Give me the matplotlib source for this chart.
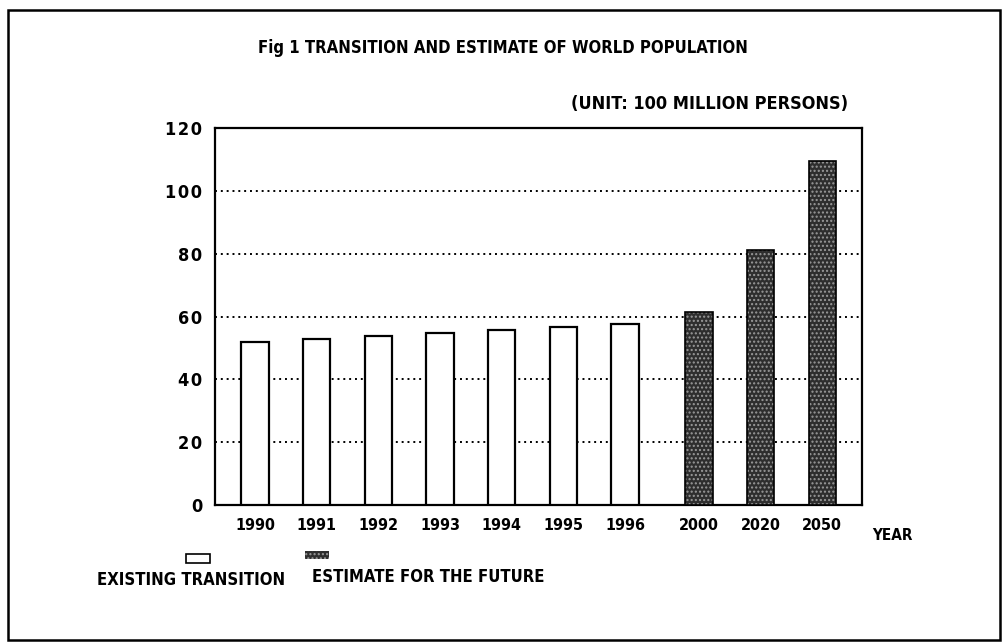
import numpy as np
import matplotlib
matplotlib.use("Agg")
import matplotlib.pyplot as plt
from matplotlib.patches import Rectangle

# values (unit: 100 million persons)
existing_years = ['1990', '1991', '1992', '1993', '1994', '1995', '1996']
existing_pop = [52.0, 52.7, 53.8, 54.7, 55.7, 56.6, 57.6]
future_years = ['2000', '2020', '2050']
future_pop = [61.5, 81.2, 109.5]
y_ticks = [0, 20, 40, 60, 80, 100, 120]

# narrow bold lettering like the old word-processor chart
plt.rcParams['font.family'] = ['DejaVu Sans']
plt.rcParams['font.stretch'] = 'condensed'
plt.rcParams['font.weight'] = 'bold'

fig = plt.figure(figsize=(10.04, 6.42), dpi=100)
ax = fig.add_axes([0.214, 0.213, 0.645, 0.588])

# slightly wider gap between the last observed year and the estimates
x_exist = np.arange(len(existing_years))
x_future = len(existing_years) + 0.2 + np.arange(len(future_years))
w = 0.44

ax.bar(x_exist, existing_pop, width=w, color='white', edgecolor='black',
       linewidth=1.6, zorder=3)
# dark stippled bars: dark fill + light dotted hatch, then black outline
ax.bar(x_future, future_pop, width=w, color='#2e2e2e', edgecolor='#9a9a9a',
       hatch='....', linewidth=0, zorder=3)
ax.bar(x_future, future_pop, width=w, fill=False, edgecolor='black',
       linewidth=1.2, zorder=4)

ax.set_xlim(-0.65, x_future[-1] + 0.65)
ax.set_ylim(0, 120)
ax.set_yticks(y_ticks)
# digits in the scan are letter-spaced a little
ax.set_yticklabels(['\u200a'.join(str(t)) for t in y_ticks], fontsize=13)
ax.set_xticks(list(x_exist) + list(x_future))
ax.set_xticklabels(existing_years + future_years, fontsize=11.5)
ax.tick_params(length=0)
ax.tick_params(axis='y', pad=9)
ax.tick_params(axis='x', pad=9)

ax.yaxis.grid(True, linestyle=(0, (1, 2)), color='black', linewidth=1.4, zorder=1)
ax.set_axisbelow(True)
for s in ax.spines.values():
    s.set_linewidth(1.6)

fig.text(0.257, 0.925, 'Fig 1 TRANSITION AND ESTIMATE OF WORLD POPULATION',
         ha='left', va='center', fontsize=12)
fig.text(0.845, 0.838, '(UNIT: 100 MILLION PERSONS)', ha='right', va='center',
         fontsize=13)
fig.text(0.889, 0.166, 'YEAR', ha='center', va='center', fontsize=11)

# legend, drawn by hand like the original
fig.patches.append(Rectangle((0.185, 0.123), 0.024, 0.014, transform=fig.transFigure,
                             facecolor='white', edgecolor='black', linewidth=1.2))
fig.patches.append(Rectangle((0.304, 0.129), 0.024, 0.0125, transform=fig.transFigure,
                             facecolor='#2e2e2e', edgecolor='#9a9a9a', hatch='....',
                             linewidth=0))
fig.text(0.190, 0.097, 'EXISTING TRANSITION', ha='center', va='center', fontsize=12)
fig.text(0.311, 0.101, 'ESTIMATE FOR THE FUTURE', ha='left', va='center', fontsize=12)

# outer frame of the scanned page
fig.patches.append(Rectangle((0.008, 0.003), 0.988, 0.981, transform=fig.transFigure,
                             fill=False, edgecolor='black', linewidth=1.8))

fig.savefig('out.png', dpi=100)
